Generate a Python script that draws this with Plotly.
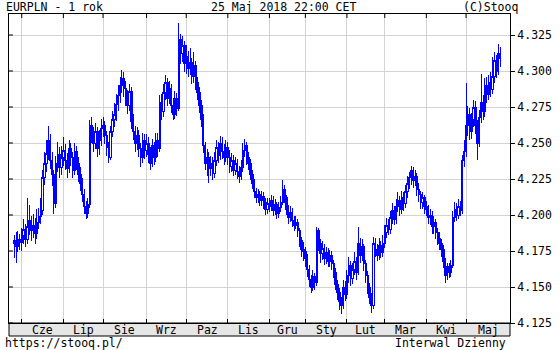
import pandas as pd
import plotly.graph_objects as go

# ---------------- data (EURPLN daily) ----------------
HOLIDAYS = ["2017-12-25", "2017-12-26", "2018-01-01"]
START, END = "2017-05-26", "2018-05-25"
MONTH_NAMES = ["Cze", "Lip", "Sie", "Wrz", "Paz", "Lis", "Gru", "Sty", "Lut", "Mar", "Kwi", "Maj"]
Y_TICKS = [4.125, 4.150, 4.175, 4.200, 4.225, 4.250, 4.275, 4.300, 4.325]

opens = [
    4.180, 4.182, 4.178, 4.183,
    4.181, 4.186, 4.190, 4.183, 4.192, 4.196, 4.189, 4.193, 4.187, 4.195, 4.199, 4.203, 4.226, 4.236, 4.243, 4.252, 4.238, 4.228, 4.208, 4.236, 4.242, 4.233,
    4.240, 4.245, 4.238, 4.232, 4.246, 4.240, 4.231, 4.244, 4.236, 4.228, 4.222, 4.214, 4.206, 4.201, 4.207, 4.262, 4.255, 4.250, 4.258, 4.246, 4.252,
    4.260, 4.262, 4.255, 4.247, 4.240, 4.258, 4.266, 4.270, 4.277, 4.283, 4.290, 4.295, 4.288, 4.282, 4.276, 4.286, 4.265, 4.258, 4.250, 4.255, 4.246, 4.240, 4.252,
    4.245, 4.250, 4.242, 4.236, 4.248, 4.240, 4.252, 4.246, 4.278, 4.272, 4.285, 4.292, 4.281, 4.288, 4.276, 4.270, 4.281, 4.274, 4.322, 4.312, 4.318,
    4.305, 4.310, 4.302, 4.306, 4.296, 4.304, 4.292, 4.285, 4.276, 4.266, 4.248, 4.236, 4.240, 4.232, 4.236, 4.229, 4.238, 4.247, 4.241, 4.250, 4.244, 4.240,
    4.247, 4.240, 4.234, 4.238, 4.231, 4.236, 4.230, 4.227, 4.233, 4.245, 4.248, 4.240, 4.236, 4.228, 4.222, 4.216, 4.212, 4.214, 4.210, 4.213, 4.209, 4.204,
    4.208, 4.206, 4.210, 4.203, 4.207, 4.201, 4.205, 4.209, 4.218, 4.212, 4.204, 4.198, 4.202, 4.196, 4.193, 4.195, 4.189, 4.182, 4.176,
    4.175, 4.170, 4.162, 4.155, 4.150, 4.157, 4.153, 4.189, 4.180, 4.173, 4.177, 4.170, 4.174, 4.168, 4.172, 4.166, 4.160, 4.152, 4.146, 4.140, 4.137, 4.150,
    4.145, 4.158, 4.165, 4.156, 4.162, 4.168, 4.160, 4.180, 4.172, 4.178, 4.166, 4.158, 4.150, 4.143, 4.137, 4.180, 4.176, 4.172, 4.179, 4.174,
    4.180, 4.188, 4.193, 4.190, 4.198, 4.203, 4.197, 4.206, 4.210, 4.204, 4.212, 4.208, 4.216, 4.222, 4.226, 4.231, 4.224, 4.227, 4.218, 4.214, 4.209, 4.212,
    4.206, 4.204, 4.198, 4.200, 4.192, 4.195, 4.188, 4.184, 4.180, 4.176, 4.168, 4.158, 4.164, 4.160, 4.165, 4.198, 4.204, 4.200, 4.206, 4.203, 4.238,
    4.244, 4.262, 4.270, 4.258, 4.266, 4.275, 4.262, 4.250, 4.268, 4.278, 4.272, 4.290, 4.284, 4.292, 4.287, 4.296, 4.307, 4.300, 4.312,
]

highs = [
    4.186, 4.188, 4.189, 4.187,
    4.191, 4.197, 4.194, 4.212, 4.207, 4.199, 4.201, 4.198, 4.204, 4.205, 4.212, 4.231, 4.244, 4.252, 4.262, 4.256, 4.244, 4.231, 4.241, 4.251, 4.247, 4.248,
    4.254, 4.249, 4.243, 4.252, 4.250, 4.244, 4.250, 4.248, 4.240, 4.233, 4.226, 4.218, 4.210, 4.212, 4.266, 4.268, 4.261, 4.264, 4.261, 4.259, 4.267,
    4.268, 4.265, 4.258, 4.251, 4.262, 4.272, 4.278, 4.284, 4.290, 4.296, 4.301, 4.299, 4.293, 4.287, 4.291, 4.289, 4.270, 4.262, 4.261, 4.259, 4.250, 4.257, 4.256,
    4.256, 4.254, 4.247, 4.253, 4.251, 4.257, 4.257, 4.283, 4.284, 4.291, 4.297, 4.295, 4.293, 4.291, 4.281, 4.286, 4.285, 4.333, 4.326, 4.324, 4.321,
    4.318, 4.314, 4.316, 4.309, 4.313, 4.307, 4.296, 4.289, 4.280, 4.270, 4.251, 4.246, 4.244, 4.241, 4.240, 4.244, 4.252, 4.251, 4.255, 4.254, 4.249, 4.252,
    4.251, 4.245, 4.243, 4.242, 4.240, 4.239, 4.234, 4.238, 4.250, 4.253, 4.251, 4.244, 4.239, 4.231, 4.225, 4.219, 4.218, 4.217, 4.217, 4.216, 4.212, 4.212,
    4.212, 4.214, 4.213, 4.211, 4.209, 4.209, 4.213, 4.224, 4.221, 4.214, 4.207, 4.206, 4.205, 4.199, 4.199, 4.197, 4.191, 4.185, 4.181,
    4.178, 4.173, 4.165, 4.158, 4.162, 4.160, 4.192, 4.191, 4.183, 4.182, 4.180, 4.178, 4.177, 4.176, 4.175, 4.169, 4.163, 4.155, 4.149, 4.143, 4.155, 4.154,
    4.162, 4.171, 4.168, 4.167, 4.174, 4.171, 4.192, 4.184, 4.183, 4.180, 4.169, 4.161, 4.153, 4.146, 4.185, 4.184, 4.180, 4.184, 4.182, 4.186,
    4.193, 4.198, 4.197, 4.203, 4.208, 4.206, 4.211, 4.216, 4.213, 4.217, 4.216, 4.221, 4.227, 4.230, 4.234, 4.233, 4.231, 4.229, 4.222, 4.217, 4.216, 4.214,
    4.210, 4.207, 4.204, 4.203, 4.199, 4.197, 4.191, 4.188, 4.183, 4.179, 4.170, 4.167, 4.167, 4.169, 4.203, 4.209, 4.208, 4.211, 4.210, 4.242, 4.252,
    4.292, 4.276, 4.274, 4.271, 4.280, 4.279, 4.266, 4.273, 4.298, 4.283, 4.295, 4.296, 4.297, 4.299, 4.310, 4.313, 4.311, 4.319, 4.317,
]

lows = [
    4.170, 4.167, 4.174, 4.176,
    4.175, 4.180, 4.178, 4.180, 4.186, 4.182, 4.184, 4.180, 4.183, 4.190, 4.194, 4.200, 4.221, 4.230, 4.238, 4.232, 4.220, 4.201, 4.205, 4.230, 4.226, 4.228,
    4.234, 4.231, 4.226, 4.229, 4.234, 4.226, 4.228, 4.231, 4.223, 4.217, 4.209, 4.201, 4.197, 4.198, 4.205, 4.250, 4.244, 4.246, 4.240, 4.242, 4.248,
    4.254, 4.249, 4.241, 4.236, 4.238, 4.254, 4.261, 4.265, 4.272, 4.278, 4.285, 4.282, 4.276, 4.270, 4.272, 4.260, 4.252, 4.244, 4.245, 4.240, 4.233, 4.236, 4.239,
    4.240, 4.236, 4.231, 4.233, 4.235, 4.237, 4.240, 4.244, 4.266, 4.268, 4.280, 4.276, 4.277, 4.271, 4.266, 4.267, 4.269, 4.272, 4.305, 4.306, 4.299,
    4.298, 4.296, 4.297, 4.291, 4.292, 4.287, 4.280, 4.271, 4.261, 4.243, 4.231, 4.227, 4.222, 4.227, 4.224, 4.226, 4.234, 4.236, 4.238, 4.239, 4.235, 4.237,
    4.235, 4.229, 4.230, 4.227, 4.228, 4.225, 4.222, 4.224, 4.230, 4.240, 4.235, 4.231, 4.224, 4.218, 4.212, 4.208, 4.208, 4.206, 4.206, 4.204, 4.200, 4.201,
    4.202, 4.203, 4.199, 4.200, 4.197, 4.198, 4.202, 4.207, 4.208, 4.200, 4.194, 4.195, 4.192, 4.189, 4.190, 4.185, 4.178, 4.171, 4.168,
    4.164, 4.157, 4.150, 4.146, 4.147, 4.148, 4.151, 4.175, 4.167, 4.169, 4.165, 4.166, 4.164, 4.164, 4.162, 4.156, 4.148, 4.141, 4.134, 4.131, 4.135, 4.140,
    4.142, 4.153, 4.151, 4.152, 4.158, 4.155, 4.158, 4.167, 4.168, 4.161, 4.153, 4.145, 4.138, 4.132, 4.135, 4.171, 4.168, 4.169, 4.170, 4.171,
    4.177, 4.184, 4.186, 4.187, 4.194, 4.193, 4.194, 4.202, 4.199, 4.201, 4.203, 4.205, 4.212, 4.218, 4.221, 4.219, 4.220, 4.213, 4.209, 4.204, 4.204, 4.201,
    4.199, 4.194, 4.193, 4.187, 4.187, 4.183, 4.179, 4.176, 4.171, 4.163, 4.153, 4.155, 4.156, 4.157, 4.163, 4.195, 4.196, 4.197, 4.199, 4.201, 4.233,
    4.240, 4.255, 4.252, 4.253, 4.261, 4.256, 4.238, 4.247, 4.264, 4.266, 4.268, 4.278, 4.280, 4.282, 4.284, 4.292, 4.295, 4.297, 4.303,
]

closes = [
    4.182, 4.178, 4.183, 4.181,
    4.186, 4.190, 4.183, 4.192, 4.196, 4.189, 4.193, 4.187, 4.195, 4.199, 4.203, 4.226, 4.236, 4.243, 4.252, 4.238, 4.228, 4.208, 4.236, 4.242, 4.233, 4.240,
    4.245, 4.238, 4.232, 4.246, 4.240, 4.231, 4.244, 4.236, 4.228, 4.222, 4.214, 4.206, 4.201, 4.207, 4.262, 4.255, 4.250, 4.258, 4.246, 4.252, 4.260,
    4.262, 4.255, 4.247, 4.240, 4.258, 4.266, 4.270, 4.277, 4.283, 4.290, 4.295, 4.288, 4.282, 4.276, 4.286, 4.265, 4.258, 4.250, 4.255, 4.246, 4.240, 4.252, 4.245,
    4.250, 4.242, 4.236, 4.248, 4.240, 4.252, 4.246, 4.278, 4.272, 4.285, 4.292, 4.281, 4.288, 4.276, 4.270, 4.281, 4.274, 4.322, 4.312, 4.318, 4.305,
    4.310, 4.302, 4.306, 4.296, 4.304, 4.292, 4.285, 4.276, 4.266, 4.248, 4.236, 4.240, 4.232, 4.236, 4.229, 4.238, 4.247, 4.241, 4.250, 4.244, 4.240, 4.247,
    4.240, 4.234, 4.238, 4.231, 4.236, 4.230, 4.227, 4.233, 4.245, 4.248, 4.240, 4.236, 4.228, 4.222, 4.216, 4.212, 4.214, 4.210, 4.213, 4.209, 4.204, 4.208,
    4.206, 4.210, 4.203, 4.207, 4.201, 4.205, 4.209, 4.218, 4.212, 4.204, 4.198, 4.202, 4.196, 4.193, 4.195, 4.189, 4.182, 4.176, 4.175,
    4.170, 4.162, 4.155, 4.150, 4.157, 4.153, 4.189, 4.180, 4.173, 4.177, 4.170, 4.174, 4.168, 4.172, 4.166, 4.160, 4.152, 4.146, 4.140, 4.137, 4.150, 4.145,
    4.158, 4.165, 4.156, 4.162, 4.168, 4.160, 4.180, 4.172, 4.178, 4.166, 4.158, 4.150, 4.143, 4.137, 4.180, 4.176, 4.172, 4.179, 4.174, 4.180,
    4.188, 4.193, 4.190, 4.198, 4.203, 4.197, 4.206, 4.210, 4.204, 4.212, 4.208, 4.216, 4.222, 4.226, 4.231, 4.224, 4.227, 4.218, 4.214, 4.209, 4.212, 4.206,
    4.204, 4.198, 4.200, 4.192, 4.195, 4.188, 4.184, 4.180, 4.176, 4.168, 4.158, 4.164, 4.160, 4.165, 4.198, 4.204, 4.200, 4.206, 4.203, 4.238, 4.244,
    4.262, 4.270, 4.258, 4.266, 4.275, 4.262, 4.250, 4.268, 4.278, 4.272, 4.290, 4.284, 4.292, 4.287, 4.296, 4.307, 4.300, 4.312, 4.309,
]

# ---------------- trading calendar ----------------
dates = [d for d in pd.bdate_range(START, END) if d.strftime("%Y-%m-%d") not in HOLIDAYS]
assert len(dates) == len(opens) == len(highs) == len(lows) == len(closes), (len(dates), len(opens), len(highs), len(lows), len(closes))
idx = list(range(len(dates)))

X_MIN, X_MAX = -2.75, len(dates) + 4.25
month_start = [i for i in idx if i > 0 and dates[i].month != dates[i - 1].month]
bounds = month_start + [X_MAX]
label_pos = [(bounds[k] + bounds[k + 1]) / 2 for k in range(len(month_start))]

# ---------------- geometry ----------------
W, H = 560, 350
ML, MR, MT, MB = 8, 39, 14, 27
PW, PH = W - ML - MR, H - MT - MB
FONT = dict(family="DejaVu Sans Mono", size=11.5, color="black")
BLUE = "#0000ff"
GRID = "#d3d3d3"


def px_x(p):
    return (p - ML) / PW


def px_y(p):
    return (H - MB - p) / PH


fig = go.Figure(
    go.Candlestick(
        x=idx, open=opens, high=highs, low=lows, close=closes,
        increasing=dict(line=dict(color=BLUE, width=1), fillcolor="white"),
        decreasing=dict(line=dict(color=BLUE, width=1), fillcolor=BLUE),
        whiskerwidth=0,
        hoverinfo="skip",
        showlegend=False,
    )
)

shapes = []
# grey month band below the plot
shapes.append(dict(type="rect", xref="paper", yref="paper", x0=0, x1=1,
                   y0=px_y(336), y1=0, fillcolor="#e6e6e6",
                   line=dict(color="black", width=1), layer="below"))
# top inner ticks at month boundaries
for m in month_start:
    shapes.append(dict(type="line", xref="x", yref="paper", x0=m, x1=m,
                       y0=1, y1=1 - 4 / PH, line=dict(color="black", width=1)))
# left inner ticks at price levels
for v in Y_TICKS:
    shapes.append(dict(type="line", xref="paper", yref="y", x0=0, x1=4 / PW,
                       y0=v, y1=v, line=dict(color="black", width=1)))

annotations = [
    dict(text="EURPLN - 1 rok", x=px_x(3), y=px_y(7), xanchor="left", yanchor="middle"),
    dict(text="25 Maj 2018 22:00 CET", x=px_x(289), y=px_y(7), xanchor="center", yanchor="middle"),
    dict(text="(C)Stooq", x=px_x(531), y=px_y(7), xanchor="right", yanchor="middle"),
    dict(text="https://stooq.pl/", x=px_x(2), y=px_y(343), xanchor="left", yanchor="middle"),
    dict(text="Interwal Dzienny", x=px_x(519), y=px_y(343), xanchor="right", yanchor="middle"),
]
for a in annotations:
    a.update(xref="paper", yref="paper", showarrow=False, font=FONT)
# month names in the grey band, placed through the x axis scale
for pos, name in zip(label_pos, MONTH_NAMES):
    annotations.append(dict(text=name, x=pos, xref="x", y=px_y(329.5), yref="paper",
                            xanchor="center", yanchor="middle", showarrow=False, font=FONT))

fig.update_layout(
    width=W, height=H,
    margin=dict(l=ML, r=MR, t=MT, b=MB, pad=0),
    paper_bgcolor="white", plot_bgcolor="white",
    font=FONT,
    showlegend=False,
    boxgap=0.0,
    shapes=shapes,
    annotations=annotations,
    xaxis=dict(
        range=[X_MIN, X_MAX], rangeslider=dict(visible=False),
        tickmode="array", tickvals=label_pos, ticktext=MONTH_NAMES,
        showticklabels=False,
        ticks="", showgrid=False, zeroline=False,
        showline=True, linecolor="black", linewidth=1, mirror=True,
        minor=dict(tickmode="array", tickvals=month_start, showgrid=True,
                   gridcolor=GRID, gridwidth=1, ticks="inside", ticklen=4,
                   tickcolor="black"),
    ),
    yaxis=dict(
        side="right", range=[4.125, 4.125 + PH * 0.025 / 36],
        tickmode="array", tickvals=Y_TICKS, tickformat=".3f",
        ticks="outside", ticklen=4, tickcolor="black",
        showgrid=True, gridcolor=GRID, gridwidth=1, zeroline=False,
        showline=True, linecolor="black", linewidth=1, mirror=True,
        tickfont=FONT,
    ),
)

CRISP = """
document.querySelectorAll('.trace.boxes path').forEach(function (p) {
    p.style.shapeRendering = 'crispEdges';
});
"""

fig.write_html("out.html", post_script=CRISP)
